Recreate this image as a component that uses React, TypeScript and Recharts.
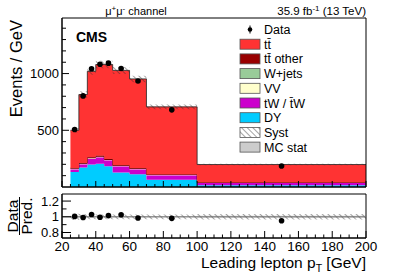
import React from 'react';
import { ComposedChart, Area, Scatter, XAxis, YAxis, ReferenceArea, ReferenceLine } from 'recharts';

// ---- data ----
const binEdges = [25, 30, 35, 40, 45, 50, 60, 70, 100, 200];
const binCenters = [27.5, 32.5, 37.5, 42.5, 47.5, 55, 65, 85, 150];
const dyVals = [132, 171, 198, 206, 183, 127, 112, 65, 15];
const twVals = [24, 29, 52, 56, 52, 56, 44, 38, 20];
const vvVals = [3, 3, 3, 3, 3, 2, 2, 2, 1];
const wjetsVals = [1, 1, 1, 1, 1, 1, 1, 0.5, 0.2];
const ttOtherVals = [6, 8, 9, 9, 8, 6, 6, 5, 4];
const ttVals = [334, 603, 757, 805, 833, 836, 788, 596, 158];
const dataVals = [507, 803, 1042, 1082, 1092, 1045, 935, 680, 185];
const ratioVals = [1.005, 0.99, 1.03, 0.995, 1.015, 1.025, 0.985, 0.98, 0.95];
const systFrac = [0.04, 0.035, 0.03, 0.03, 0.03, 0.03, 0.03, 0.03, 0.035];
const statFrac = [0.012, 0.01, 0.008, 0.008, 0.008, 0.008, 0.008, 0.008, 0.012];

const xMajorTicks = [20, 40, 60, 80, 100, 120, 140, 160, 180, 200];
const xAllTicks = [20, 25, 30, 35, 40, 45, 50, 55, 60, 65, 70, 75, 80, 85, 90, 95, 100, 105, 110, 115, 120, 125, 130, 135, 140, 145, 150, 155, 160, 165, 170, 175, 180, 185, 190, 195, 200];
const yMainTicks = [100, 200, 300, 400, 500, 600, 700, 800, 900, 1000, 1100, 1200, 1300, 1400];
const yMainLabels = [500, 1000];
const yRatioTicks = [0.8, 0.9, 1, 1.1, 1.2];
const yRatioLabels = [0.8, 1, 1.2];

const legendItems = [
  { label: 'Data', kind: 'data', color: '#000' },
  { label: 'tt\u0304', kind: 'box', color: '#ff3333' },
  { label: 'tt\u0304 other', kind: 'box', color: '#990000' },
  { label: 'W+jets', kind: 'box', color: '#99cc99' },
  { label: 'VV', kind: 'box', color: '#ffffcc' },
  { label: 'tW / t\u0304W', kind: 'box', color: '#cc00cc' },
  { label: 'DY', kind: 'box', color: '#00ccff' },
  { label: 'Syst', kind: 'hatch', color: '#fff' },
  { label: 'MC stat', kind: 'box', color: '#cccccc' },
];

// ---- derived tables ----
const edgeRows = binEdges.map((x, i) => {
  const k = Math.min(i, dyVals.length - 1);
  const total = dyVals[k] + twVals[k] + vvVals[k] + wjetsVals[k] + ttOtherVals[k] + ttVals[k];
  return {
    x,
    dy: dyVals[k],
    tw: twVals[k],
    vv: vvVals[k],
    wj: wjetsVals[k],
    tto: ttOtherVals[k],
    tt: ttVals[k],
    syst: [total * (1 - systFrac[k]), total * (1 + systFrac[k])],
    rsyst: [1 - systFrac[k], 1 + systFrac[k]],
    rstat: [1 - statFrac[k], 1 + statFrac[k]],
  };
});
const dataRows = binCenters.map((x, i) => ({ x, data: dataVals[i] }));
const ratioRows = binCenters.map((x, i) => ({ x, ratio: ratioVals[i] }));

const FONT = 'Liberation Sans, Arial, Helvetica, sans-serif';

const MainXTick = (p: any) => {
  const v = p.payload.value;
  const major = xMajorTicks.includes(v);
  return <line x1={p.x} x2={p.x} y1={p.y} y2={p.y - (major ? 6 : 3)} stroke="#000" strokeWidth={1} />;
};

const RatioXTick = (p: any) => {
  const v = p.payload.value;
  const major = xMajorTicks.includes(v);
  return (
    <g>
      <line x1={p.x} x2={p.x} y1={p.y} y2={p.y - (major ? 7 : 3.5)} stroke="#000" strokeWidth={1} />
      {major && (
        <text x={p.x} y={p.y + 12.5} textAnchor="middle" fontSize={13.5} fontFamily={FONT} fill="#000">
          {v}
        </text>
      )}
    </g>
  );
};

const MainYTick = (p: any) => {
  const v = p.payload.value;
  const major = yMainLabels.includes(v);
  return (
    <g>
      <line x1={p.x} x2={p.x + (major ? 7 : 4)} y1={p.y} y2={p.y} stroke="#000" strokeWidth={1} />
      {major && (
        <text x={p.x - 3} y={p.y + 4.5} textAnchor="end" fontSize={13} fontFamily={FONT} fill="#000">
          {v}
        </text>
      )}
    </g>
  );
};

const RatioYTick = (p: any) => {
  const v = p.payload.value;
  const major = yRatioLabels.includes(v);
  return (
    <g>
      <line x1={p.x} x2={p.x + (major ? 9 : 4.5)} y1={p.y} y2={p.y} stroke="#000" strokeWidth={1} />
      {major && (
        <text x={p.x - 3} y={p.y + 4.5} textAnchor="end" fontSize={13} fontFamily={FONT} fill="#000">
          {v}
        </text>
      )}
    </g>
  );
};

const Dot = (p: any) => <circle cx={p.cx} cy={p.cy} r={2.8} fill="#000" />;

const Hatch = ({ id }: { id: string }) => (
  <pattern id={id} width={4} height={4} patternUnits="userSpaceOnUse" patternTransform="rotate(-45)">
    <line x1={0} y1={0} x2={0} y2={4} stroke="#333" strokeWidth={0.9} />
  </pattern>
);

export default function App() {
  return (
    <div style={{ position: 'absolute', left: 0, top: 0, width: 407, height: 276, background: '#fff' }}>
      {/* main panel */}
      <div style={{ position: 'absolute', left: 0, top: 0 }}>
        <ComposedChart width={407} height={276} data={edgeRows} margin={{ top: 18, right: 41, bottom: 0, left: 0 }}>
          <defs>
            <Hatch id="hatchMain" />
          </defs>
          <XAxis
            dataKey="x"
            type="number"
            domain={[20, 200]}
            allowDataOverflow
            ticks={xAllTicks}
            interval={0}
            height={89}
            tickSize={0}
            tickMargin={0}
            tickLine={false}
            tick={MainXTick}
            axisLine={{ stroke: '#000' }}
          />
          <YAxis
            type="number"
            domain={[0, 1490]}
            allowDataOverflow
            ticks={yMainTicks}
            interval={0}
            width={62}
            tickSize={0}
            tickMargin={0}
            tickLine={false}
            tick={MainYTick}
            axisLine={{ stroke: '#000' }}
          />
          <Area type="stepAfter" dataKey="dy" stackId="s" fill="#00ccff" fillOpacity={1} stroke="none" isAnimationActive={false} />
          <Area type="stepAfter" dataKey="tw" stackId="s" fill="#cc00cc" fillOpacity={1} stroke="none" isAnimationActive={false} />
          <Area type="stepAfter" dataKey="vv" stackId="s" fill="#ffffcc" fillOpacity={1} stroke="none" isAnimationActive={false} />
          <Area type="stepAfter" dataKey="wj" stackId="s" fill="#99cc99" fillOpacity={1} stroke="none" isAnimationActive={false} />
          <Area type="stepAfter" dataKey="tto" stackId="s" fill="#990000" fillOpacity={1} stroke="#330000" strokeWidth={0.8} isAnimationActive={false} />
          <Area type="stepAfter" dataKey="tt" stackId="s" fill="#ff3333" fillOpacity={1} stroke="#222" strokeWidth={0.8} isAnimationActive={false} />
          <Area type="stepAfter" dataKey="syst" fill="url(#hatchMain)" fillOpacity={1} stroke="none" isAnimationActive={false} />
          <Scatter data={dataRows} dataKey="data" shape={Dot} isAnimationActive={false} />
          <ReferenceArea x1={20} x2={200} y1={0} y2={1490} fill="none" stroke="#000" strokeWidth={1} ifOverflow="visible" />
        </ComposedChart>
      </div>
      {/* ratio panel */}
      <div style={{ position: 'absolute', left: 0, top: 0 }}>
        <ComposedChart width={407} height={276} data={edgeRows} margin={{ top: 194, right: 41, bottom: 0, left: 0 }}>
          <defs>
            <Hatch id="hatchRatio" />
          </defs>
          <XAxis
            dataKey="x"
            type="number"
            domain={[20, 200]}
            allowDataOverflow
            ticks={xAllTicks}
            interval={0}
            height={38}
            tickSize={0}
            tickMargin={0}
            tickLine={false}
            tick={RatioXTick}
            axisLine={{ stroke: '#000' }}
          />
          <YAxis
            type="number"
            domain={[0.73, 1.29]}
            allowDataOverflow
            ticks={yRatioTicks}
            interval={0}
            width={62}
            tickSize={0}
            tickMargin={0}
            tickLine={false}
            tick={RatioYTick}
            axisLine={{ stroke: '#000' }}
          />
          <Area type="stepAfter" dataKey="rstat" fill="#cccccc" fillOpacity={1} stroke="none" isAnimationActive={false} />
          <Area type="stepAfter" dataKey="rsyst" fill="url(#hatchRatio)" fillOpacity={1} stroke="none" isAnimationActive={false} />
          <ReferenceLine y={1} stroke="#777" strokeWidth={1} />
          <Scatter data={ratioRows} dataKey="ratio" shape={Dot} isAnimationActive={false} />
          <ReferenceArea x1={20} x2={200} y1={0.73} y2={1.29} fill="none" stroke="#000" strokeWidth={1} ifOverflow="visible" />
        </ComposedChart>
      </div>
      {/* text overlay */}
      <svg width={407} height={276} style={{ position: 'absolute', left: 0, top: 0 }} fontFamily={FONT}>
        <defs>
          <Hatch id="hatchLegend" />
        </defs>
        <text x={136} y={15} textAnchor="middle" fontSize={11}>
          μ<tspan dy={-4} fontSize={8}>+</tspan>
          <tspan dy={4}>μ</tspan>
          <tspan dy={-4} fontSize={8}>-</tspan>
          <tspan dy={4}> channel</tspan>
        </text>
        <text x={366} y={15} textAnchor="end" fontSize={11.5}>
          35.9 fb<tspan dy={-4} fontSize={8}>-1</tspan>
          <tspan dy={4}> (13 TeV)</tspan>
        </text>
        <text x={76} y={42} fontSize={14} fontWeight="bold">CMS</text>
        <text transform="translate(22,20) rotate(-90)" textAnchor="end" fontSize={16.5}>Events / GeV</text>
        <text transform="translate(18,216) rotate(-90)" textAnchor="middle" fontSize={15.5}>Data</text>
        <line x1={19.5} x2={19.5} y1={197} y2={235} stroke="#000" strokeWidth={1} />
        <text transform="translate(32,216) rotate(-90)" textAnchor="middle" fontSize={15.5}>Pred.</text>
        <text x={366} y={268} textAnchor="end" fontSize={15.5}>
          Leading lepton p<tspan dy={4} fontSize={10.5}>T</tspan>
          <tspan dy={-4}> [GeV]</tspan>
        </text>
        {legendItems.map((it, i) => {
          const cy = 29.5 + i * 14.7;
          return (
            <g key={it.label}>
              {it.kind === 'data' ? (
                <g>
                  <line x1={250} x2={250} y1={cy - 4} y2={cy + 4} stroke="#000" strokeWidth={1} />
                  <circle cx={250} cy={cy} r={2.3} fill="#000" />
                </g>
              ) : (
                <rect
                  x={240}
                  y={cy - 5}
                  width={20}
                  height={10}
                  fill={it.kind === 'hatch' ? 'url(#hatchLegend)' : it.color}
                  stroke="#555"
                  strokeWidth={0.8}
                />
              )}
              <text x={264} y={cy + 4.5} fontSize={12.5}>{it.label}</text>
            </g>
          );
        })}
      </svg>
    </div>
  );
}
